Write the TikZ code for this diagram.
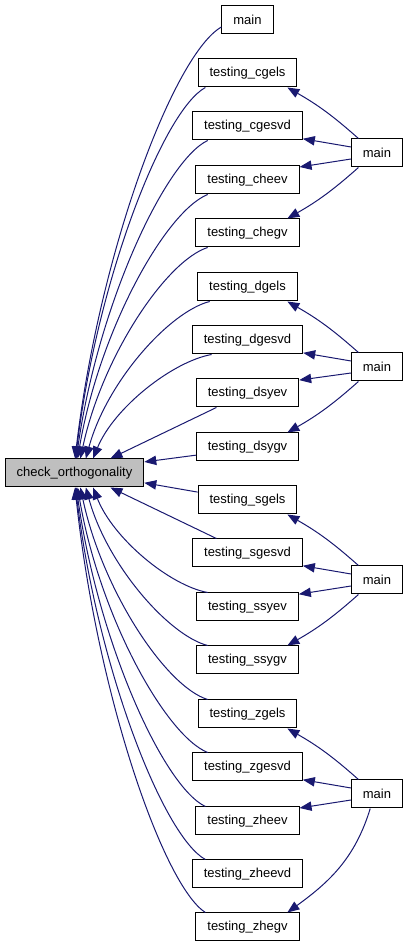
\documentclass[tikz,border=0pt]{standalone}
\usepackage{fontspec}
\setmainfont{Liberation Sans}
\usetikzlibrary{arrows.meta}
\definecolor{callblue}{HTML}{191970}
\tikzset{
  fn/.style={draw=black, line width=0.75pt, fill=white, minimum height=21pt,
    inner xsep=8.6pt, inner ysep=0pt, font=\fontsize{9.75}{11}\selectfont},
  curfn/.style={fn, fill=black!25},
  callarrow/.style={draw=callblue, line width=0.75pt,
    -{Triangle[length=9pt,width=7pt]}},
}
\begin{document}
\begin{tikzpicture}[x=0.75pt,y=0.75pt]
  \useasboundingbox (0,0) rectangle (408,947);
  % Documented function
  \node[curfn] (chk) at (74.5,474) {check\_orthogonality};
  % Direct callers
  \node[fn] (mtop)   at (247.5,927.5) {main};
  \node[fn] (cgels)  at (247.5,874) {testing\_cgels};
  \node[fn] (cgesvd) at (247.5,821) {testing\_cgesvd};
  \node[fn] (cheev)  at (247.5,767) {testing\_cheev};
  \node[fn] (chegv)  at (247.5,714) {testing\_chegv};
  \node[fn] (dgels)  at (247.5,660) {testing\_dgels};
  \node[fn] (dgesvd) at (247.5,607) {testing\_dgesvd};
  \node[fn] (dsyev)  at (247.5,554) {testing\_dsyev};
  \node[fn] (dsygv)  at (247.5,500) {testing\_dsygv};
  \node[fn] (sgels)  at (247.5,447) {testing\_sgels};
  \node[fn] (sgesvd) at (247.5,394) {testing\_sgesvd};
  \node[fn] (ssyev)  at (247.5,340) {testing\_ssyev};
  \node[fn] (ssygv)  at (247.5,287) {testing\_ssygv};
  \node[fn] (zgels)  at (247.5,233) {testing\_zgels};
  \node[fn] (zgesvd) at (247.5,180) {testing\_zgesvd};
  \node[fn] (zheev)  at (247.5,126) {testing\_zheev};
  \node[fn] (zheevd) at (247.5,73) {testing\_zheevd};
  \node[fn] (zhegv)  at (247.5,20) {testing\_zhegv};
  % Test drivers
  \node[fn] (mc) at (377,794) {main};
  \node[fn] (md) at (377,580) {main};
  \node[fn] (ms) at (377,367) {main};
  \node[fn] (mz) at (377,153) {main};
  % Calls from above
  \draw[callarrow] (mtop.196) .. controls +(-47,-27) and +(25,210) .. (chk.88);
  \draw[callarrow] (cgels.199) .. controls +(-42,-23) and +(22,180) .. (chk.86);
  \draw[callarrow] (cgesvd.200) .. controls +(-42,-20) and +(22,155) .. (chk.83);
  \draw[callarrow] (cheev.200) .. controls +(-42,-17) and +(22,129) .. (chk.78);
  \draw[callarrow] (chegv.200) .. controls +(-41,-13) and +(22,103) .. (chk.68);
  \draw[callarrow] (dgels.201) .. controls +(-40,-10) and +(21,77) .. (chk.52);
  \draw[callarrow] (dgesvd.202) .. controls +(-39,-7) and +(21,51) .. (chk.38);
  \draw[callarrow] (dsyev.205) -- (chk.22);
  \draw[callarrow] (dsygv.189) -- (chk.9);
  % Calls from below
  \draw[callarrow] (sgels.171) -- (chk.-8);
  \draw[callarrow] (sgesvd.155) -- (chk.-22);
  \draw[callarrow] (ssyev.160) .. controls +(-38,7) and +(20,-51) .. (chk.-38);
  \draw[callarrow] (ssygv.160) .. controls +(-39,10) and +(21,-77) .. (chk.-52);
  \draw[callarrow] (zgels.160) .. controls +(-42,13) and +(22,-103) .. (chk.-68);
  \draw[callarrow] (zgesvd.160) .. controls +(-42,17) and +(22,-129) .. (chk.-78);
  \draw[callarrow] (zheev.161) .. controls +(-42,20) and +(22,-155) .. (chk.-83);
  \draw[callarrow] (zheevd.161) .. controls +(-42,23) and +(22,-181) .. (chk.-86);
  \draw[callarrow] (zhegv.161) .. controls +(-42,27) and +(22,-207) .. (chk.-88);
  % Drivers calling the tests
  \foreach \m/\a/\b/\c/\d in {mc/cgels/cgesvd/cheev/chegv,
      md/dgels/dgesvd/dsyev/dsygv, ms/sgels/sgesvd/ssyev/ssygv} {
    \draw[callarrow] (\m.142) to[bend right=6] (\a.-20);
    \draw[callarrow] (\m.167) -- (\b.-13);
    \draw[callarrow] (\m.193) -- (\c.14);
    \draw[callarrow] (\m.218) to[bend left=6] (\d.20);
  }
  \draw[callarrow] (mz.142) to[bend right=6] (zgels.-20);
  \draw[callarrow] (mz.167) -- (zgesvd.-13);
  \draw[callarrow] (mz.193) -- (zheev.14);
  \draw[callarrow] (mz.-115) to[out=253,in=36] (zhegv.20);
\end{tikzpicture}
\end{document}
